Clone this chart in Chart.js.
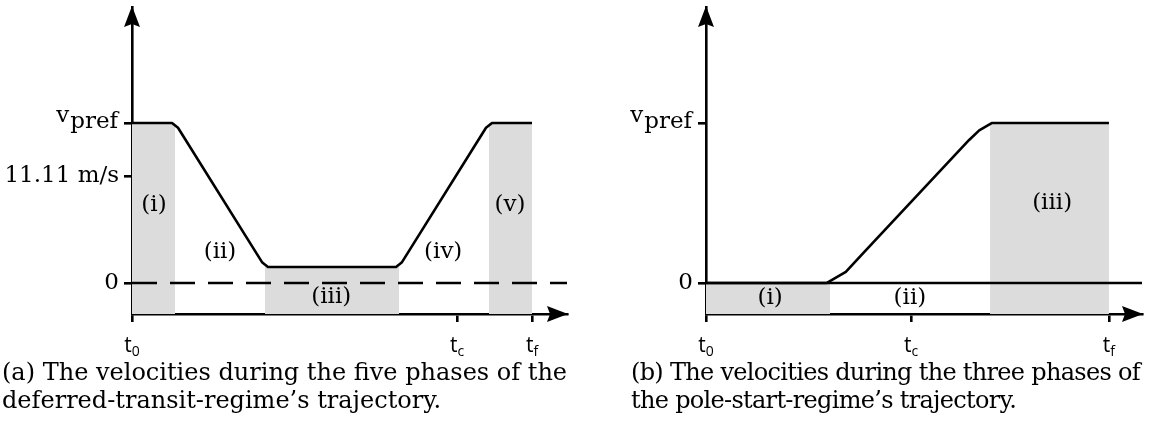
<!DOCTYPE html>
<html>
<head>
<meta charset="utf-8">
<script src="https://cdn.jsdelivr.net/npm/chart.js@4.4.1/dist/chart.umd.min.js"></script>
<style>
  body { margin: 0; background: #fff; }
  #wrap { position: relative; width: 1151px; height: 428px; }
  canvas { position: absolute; top: 0; }
  .cap { position: absolute; top: 358px; font-family: 'DejaVu Serif', serif; font-size: 24px;
         line-height: 28px; white-space: nowrap; color: #000; }
</style>
</head>
<body>
<div id="wrap">
  <canvas id="chartA" width="575" height="360" style="left:0"></canvas>
  <canvas id="chartB" width="576" height="360" style="left:575px"></canvas>
  <div class="cap" style="left:2px">(a) The velocities during the five phases of the<br>deferred-transit-regime’s trajectory.</div>
  <div class="cap" style="left:631px;letter-spacing:-0.7px">(b) The velocities during the three phases of<br>the pole-start-regime’s trajectory.</div>
</div>
<script>
// speeds in m/s
const vPref = 16.67;
const vMark = 11.11;
const vLow = 1.67;

// (a) deferred transit
const timeA = [0, 1.0, 1.15, 3.25, 3.4, 6.6, 6.75, 8.85, 9.0, 10];
const speedA = [vPref, vPref, 16.17, 2.17, vLow, vLow, 2.17, 16.17, vPref, vPref];
const shadeA = [[0, 1.075, vPref], [3.325, 6.675, vLow], [8.925, 10, vPref]]; // start, end, top
const xTicksA = [0, 8.125, 10];
const yTicksA = [0, vMark, vPref];
const phaseNamesA = ['(i)', '(ii)', '(iii)', '(iv)', '(v)'];
const phaseAtA = [[0.55, 8.1], [2.2, 3.2], [4.98, -1.46], [7.78, 3.2], [9.45, 8.1]];

// (b) pole start
const timeB = [0, 3.0, 3.47, 3.93, 6.53, 6.78, 7.1, 10];
const speedB = [0, 0, 1.15, 3.23, 14.9, 15.9, vPref, vPref];
const shadeB = [[0, 3.08, 0], [7.05, 10, vPref]];
const xTicksB = [0, 5.09, 10];
const yTicksB = [0, vPref];
const phaseNamesB = ['(i)', '(ii)', '(iii)'];
const phaseAtB = [[1.59, -1.55], [5.06, -1.55], [8.59, 8.3]];

const xTickNames = [['t', '0'], ['t', 'c'], ['t', 'f']];
const yMin = -3.23, yMax = 28.75;

const serif = "23px 'DejaVu Serif'";
const LW = 2.6;

function sketchPlugin(names, spots) {
  return {
    id: 'sketch',
    afterDraw(chart) {
      const ctx = chart.ctx;
      const xs = chart.scales.x, ys = chart.scales.y;
      const a = chart.chartArea;
      ctx.save();
      ctx.fillStyle = '#000';
      // arrow heads
      ctx.beginPath();
      ctx.moveTo(a.left, a.top - 1);
      ctx.lineTo(a.left - 8, a.top + 20);
      ctx.lineTo(a.left, a.top + 17);
      ctx.lineTo(a.left + 8, a.top + 20);
      ctx.closePath();
      ctx.fill();
      ctx.beginPath();
      ctx.moveTo(a.right + 1, a.bottom);
      ctx.lineTo(a.right - 20, a.bottom - 8);
      ctx.lineTo(a.right - 17, a.bottom);
      ctx.lineTo(a.right - 20, a.bottom + 8);
      ctx.closePath();
      ctx.fill();

      // phase labels
      ctx.font = serif;
      ctx.textAlign = 'center';
      ctx.textBaseline = 'middle';
      names.forEach((n, i) => {
        ctx.fillText(n, xs.getPixelForValue(spots[i][0]), ys.getPixelForValue(spots[i][1]));
      });

      // v_pref label
      const py = ys.getPixelForValue(vPref);
      const rx = a.left - 14;
      ctx.textAlign = 'right';
      ctx.textBaseline = 'alphabetic';
      ctx.fillText('pref', rx, py + 5);
      const w = ctx.measureText('pref').width;
      ctx.fillText('v', rx - w - 1, py - 1);

      // time tick labels with subscripts
      xs.ticks.forEach((t, i) => {
        const px = xs.getPixelForValue(t.value);
        ctx.font = "21px 'Open Sans'";
        const w1 = ctx.measureText(xTickNames[i][0]).width;
        ctx.font = "14px 'Open Sans'";
        const w2 = ctx.measureText(xTickNames[i][1]).width;
        const x0 = px - (w1 + w2) / 2;
        ctx.textAlign = 'left';
        ctx.font = "21px 'Open Sans'";
        ctx.fillText(xTickNames[i][0], x0, 352);
        ctx.font = "14px 'Open Sans'";
        ctx.fillText(xTickNames[i][1], x0 + w1, 356);
      });
      ctx.restore();
    }
  };
}

function buildChart(id, cfg) {
  const sets = [{
    data: cfg.time.map((t, i) => ({ x: t, y: cfg.speed[i] })),
    borderColor: '#000', borderWidth: LW, pointRadius: 0, borderJoinStyle: 'round',
    tension: 0, fill: false, order: 1
  }, {
    data: [{ x: 0, y: 0 }, { x: cfg.xMax, y: 0 }],
    borderColor: '#000', borderWidth: LW, borderDash: cfg.dash, pointRadius: 0,
    fill: false, order: 2
  }];
  cfg.shade.forEach(s => {
    sets.push({
      data: [{ x: s[0], y: s[2] }, { x: s[1], y: s[2] }],
      borderWidth: 0, pointRadius: 0, backgroundColor: '#dcdcdc',
      fill: 'start', order: 3
    });
  });
  return new Chart(document.getElementById(id), {
    type: 'line',
    data: { datasets: sets },
    options: {
      responsive: false,
      animation: false,
      layout: { padding: { top: 7, right: cfg.padRight, left: 0, bottom: 0 } },
      plugins: { legend: { display: false }, tooltip: { enabled: false } },
      scales: {
        x: {
          type: 'linear', min: 0, max: cfg.xMax,
          afterBuildTicks: s => { s.ticks = cfg.xTicks.map(v => ({ value: v })); },
          afterFit: s => { s.height = 46; s.paddingLeft = 0; s.paddingRight = 0; },
          ticks: { callback: () => '' },
          grid: { drawOnChartArea: false, tickLength: 8, lineWidth: LW, color: '#000' },
          border: { color: '#000', width: LW }
        },
        y: {
          min: yMin, max: yMax,
          afterBuildTicks: s => { s.ticks = cfg.yTicks.map(v => ({ value: v })); },
          afterFit: s => { s.width = cfg.axisLeft; s.paddingTop = 0; s.paddingBottom = 0; },
          ticks: {
            color: '#000', padding: 5, font: { family: 'DejaVu Serif', size: 23 },
            callback: v => v === 0 ? '0' : (v === vMark ? '11.11 m/s' : '')
          },
          grid: { drawOnChartArea: false, tickLength: 8, lineWidth: LW, color: '#000' },
          border: { color: '#000', width: LW }
        }
      }
    },
    plugins: [sketchPlugin(cfg.names, cfg.spots)]
  });
}

buildChart('chartA', {
  time: timeA, speed: speedA, shade: shadeA, xTicks: xTicksA, yTicks: yTicksA,
  names: phaseNamesA, spots: phaseAtA, xMax: 10.875, dash: [25, 13], padRight: 8, axisLeft: 132
});
buildChart('chartB', {
  time: timeB, speed: speedB, shade: shadeB, xTicks: xTicksB, yTicks: yTicksB,
  names: phaseNamesB, spots: phaseAtB, xMax: 10.82, dash: [], padRight: 9, axisLeft: 131
});
</script>
</body>
</html>
